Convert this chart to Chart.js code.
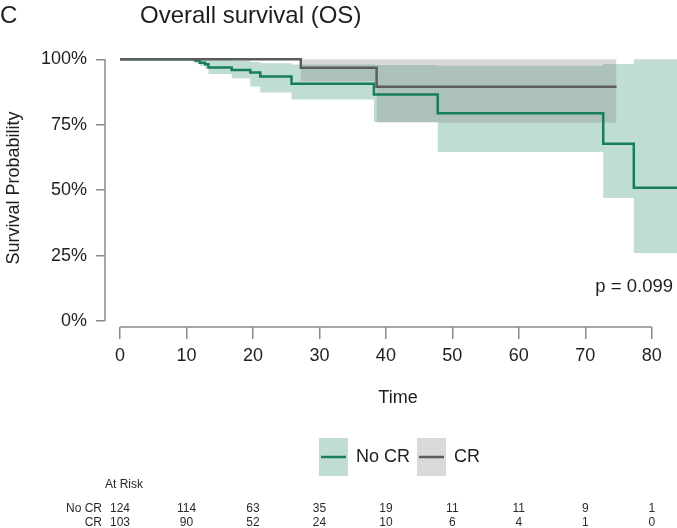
<!DOCTYPE html>
<html>
<head>
<meta charset="utf-8">
<script src="https://cdn.jsdelivr.net/npm/chart.js@4.4.1/dist/chart.umd.min.js"></script>
<style>
    html, body { margin: 0; padding: 0; background: #fff; }
    #wrap { width: 677px; height: 528px; }
</style>
</head>
<body>
<div id="wrap"><canvas id="osChart" width="677" height="528"></canvas></div>
<script>
// Axis ticks
const xTicks = [0, 10, 20, 30, 40, 50, 60, 70, 80];
const yTicks = [0, 0.25, 0.5, 0.75, 1];

// No CR group (KM estimate + 95% CI)
const noCrTime  = [0, 11.3, 12.0, 12.8, 13.3, 16.8, 19.6, 21.1, 25.8, 38.2, 47.8, 72.7, 77.3, 84];
const noCrSurv  = [1, 0.995, 0.987, 0.981, 0.969, 0.959, 0.949, 0.934, 0.906, 0.865, 0.794, 0.677, 0.509, 0.509];
const noCrUpper = [1, 1, 1, 1, 0.998, 0.995, 0.99, 0.985, 0.98, 0.978, 0.975, 0.982, 1, 1];
const noCrLower = [1, 0.985, 0.975, 0.965, 0.944, 0.927, 0.896, 0.873, 0.846, 0.76, 0.646, 0.47, 0.26, 0.26];

// CR group
const crTime  = [0, 27.2, 38.6, 74.7];
const crSurv  = [1, 0.968, 0.895, 0.895];
const crUpper = [1, 1, 1, 1];
const crLower = [1, 0.916, 0.758, 0.758];

// Numbers at risk
const riskTimes = [0, 10, 20, 30, 40, 50, 60, 70, 80];
const riskNoCr = [124, 114, 63, 35, 19, 11, 11, 9, 1];
const riskCr   = [103, 90, 52, 24, 10, 6, 4, 1, 0];

const FONT = "'Liberation Sans', Arial, Helvetica, sans-serif";
const GREEN = '#177d5d';
const GREY = '#5c5c5c';
const GREEN_FILL = 'rgba(26, 133, 98, 0.28)';
const GREY_FILL = 'rgba(128, 128, 128, 0.3)';
const AXIS = '#8a8a8a';

function toPoints(times, vals) {
    return times.map((t, i) => ({ x: t, y: vals[i] }));
}

function band(times, vals, fill, color, order) {
    return {
        data: toPoints(times, vals),
        stepped: 'before',
        borderWidth: 0,
        pointRadius: 0,
        backgroundColor: color,
        fill: fill,
        order: order
    };
}

// Extra drawing: axis lines, titles, p value, legend and risk table
const extras = {
    id: 'extras',
    afterDraw(chart) {
        const ctx = chart.ctx;
        const xs = chart.scales.x;
        const ys = chart.scales.y;
        const area = chart.chartArea;
        ctx.save();

        // axis lines only between first and last tick
        ctx.strokeStyle = AXIS;
        ctx.lineWidth = 1.5;
        ctx.beginPath();
        ctx.moveTo(xs.getPixelForValue(xTicks[0]), area.bottom);
        ctx.lineTo(xs.getPixelForValue(xTicks[xTicks.length - 1]), area.bottom);
        ctx.moveTo(area.left, ys.getPixelForValue(yTicks[0]));
        ctx.lineTo(area.left, ys.getPixelForValue(yTicks[yTicks.length - 1]));
        ctx.stroke();

        ctx.fillStyle = '#1e1e1e';
        ctx.textBaseline = 'alphabetic';
        ctx.textAlign = 'left';
        ctx.font = '24px ' + FONT;
        ctx.fillText('C', 0, 23);
        ctx.fillText('Overall survival (OS)', 140, 23);

        // axis titles
        ctx.font = '18px ' + FONT;
        ctx.textAlign = 'center';
        ctx.textBaseline = 'middle';
        ctx.fillText('Time', 398, 398);
        ctx.save();
        ctx.translate(14, 188);
        ctx.rotate(-Math.PI / 2);
        ctx.fillText('Survival Probability', 0, 0);
        ctx.restore();

        // p value
        ctx.font = '18.5px ' + FONT;
        ctx.textAlign = 'right';
        ctx.textBaseline = 'alphabetic';
        ctx.fillText('p = 0.099', 673, 292);

        // legend
        const items = [
            { label: 'No CR', fill: GREEN_FILL, line: GREEN, x: 319 },
            { label: 'CR', fill: GREY_FILL, line: GREY, x: 417 }
        ];
        ctx.font = '18px ' + FONT;
        ctx.textAlign = 'left';
        ctx.textBaseline = 'middle';
        items.forEach(it => {
            ctx.fillStyle = it.fill;
            ctx.fillRect(it.x, 438, 29, 38);
            ctx.strokeStyle = it.line;
            ctx.lineWidth = 2.5;
            ctx.beginPath();
            ctx.moveTo(it.x + 2, 457);
            ctx.lineTo(it.x + 27, 457);
            ctx.stroke();
            ctx.fillStyle = '#1e1e1e';
            ctx.fillText(it.label, it.x + 37, 457);
        });

        // risk table
        ctx.fillStyle = '#2a2a2a';
        ctx.font = '12px ' + FONT;
        ctx.textAlign = 'left';
        ctx.fillText('At Risk', 105, 485);
        const rows = [
            { label: 'No CR', vals: riskNoCr, y: 509 },
            { label: 'CR', vals: riskCr, y: 523 }
        ];
        rows.forEach(r => {
            ctx.textAlign = 'right';
            ctx.fillText(r.label, 102, r.y);
            ctx.textAlign = 'center';
            r.vals.forEach((v, i) => {
                ctx.fillText(String(v), xs.getPixelForValue(riskTimes[i]), r.y);
            });
        });

        ctx.restore();
    }
};

new Chart(document.getElementById('osChart'), {
    type: 'line',
    data: {
        datasets: [
            { data: toPoints(crTime, crSurv), stepped: 'before', borderColor: GREY, borderWidth: 2.5, pointRadius: 0, fill: false, order: 0 },
            { data: toPoints(noCrTime, noCrSurv), stepped: 'before', borderColor: GREEN, borderWidth: 2.5, pointRadius: 0, fill: false, order: 1 },
            band(crTime, crUpper, '+1', GREY_FILL, 2),
            band(crTime, crLower, false, GREY_FILL, 2),
            band(noCrTime, noCrUpper, '+1', GREEN_FILL, 3),
            band(noCrTime, noCrLower, false, GREEN_FILL, 3)
        ]
    },
    options: {
        responsive: false,
        animation: false,
        devicePixelRatio: 1,
        layout: { padding: { top: 48.8, left: 0, right: 0, bottom: 0 } },
        plugins: {
            legend: { display: false },
            tooltip: { enabled: false },
            title: { display: false }
        },
        scales: {
            x: {
                type: 'linear',
                min: -2.26,
                max: 83.8,
                afterFit(scale) { scale.height = 201; },
                afterBuildTicks(scale) { scale.ticks = xTicks.map(v => ({ value: v })); },
                border: { display: false },
                grid: { drawOnChartArea: false, drawTicks: true, tickLength: 12, color: AXIS, lineWidth: 1.5 },
                ticks: { padding: 6, color: '#1e1e1e', font: { family: FONT, size: 18 }, maxRotation: 0 }
            },
            y: {
                type: 'linear',
                min: -0.023,
                max: 1.04,
                afterFit(scale) { scale.width = 105; },
                afterBuildTicks(scale) { scale.ticks = yTicks.map(v => ({ value: v })); },
                border: { display: false },
                grid: { drawOnChartArea: false, drawTicks: true, tickLength: 9, color: AXIS, lineWidth: 1.5 },
                ticks: {
                    padding: 9,
                    color: '#1e1e1e',
                    font: { family: FONT, size: 18 },
                    callback: v => Math.round(v * 100) + '%'
                }
            }
        }
    },
    plugins: [extras]
});
</script>
</body>
</html>
